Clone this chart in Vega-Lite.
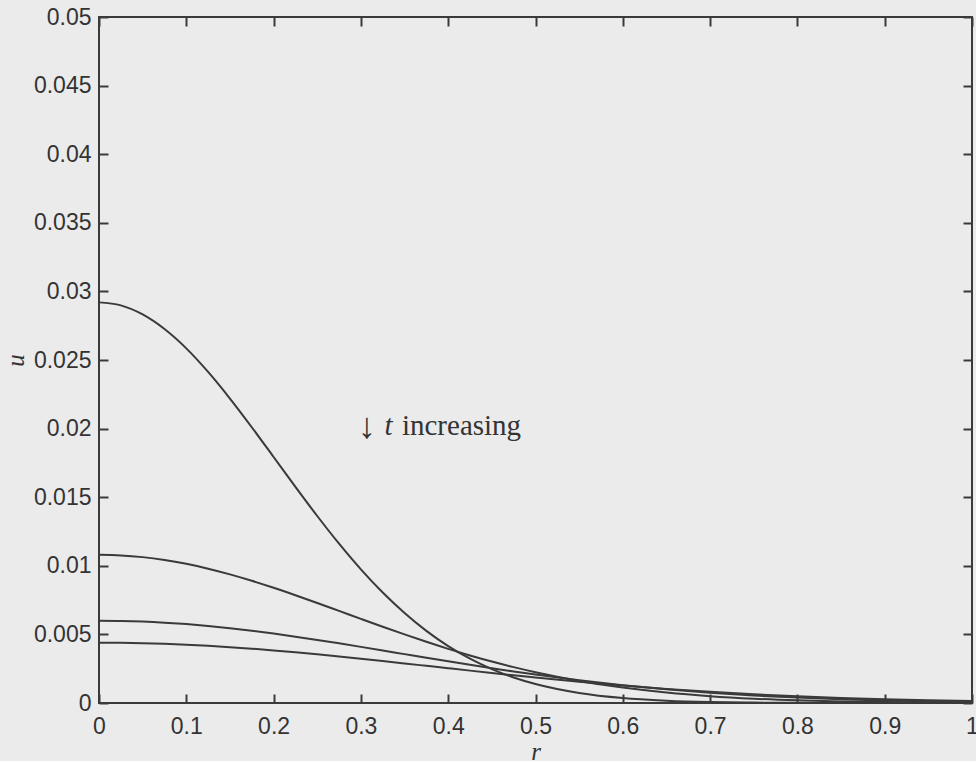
{
  "$schema": "https://vega.github.io/schema/vega-lite/v6.json",
  "width": 873,
  "height": 686,
  "autosize": {"type": "none"},
  "padding": {"left": 99, "top": 17, "right": 4, "bottom": 58},
  "background": "#ebebeb",
  "config": {
    "view": {"stroke": "#3a3a3a", "strokeWidth": 2, "fill": "#ebebeb"},
    "axis": {
      "domain": false, "grid": false,
      "tickColor": "#3a3a3a", "tickWidth": 2, "tickSize": -9,
      "labelFont": "Liberation Sans", "labelFontSize": 23, "labelColor": "#333333",
      "labelFlush": false, "labelOverlap": false,
      "titleFont": "Liberation Serif", "titleFontStyle": "italic", "titleFontWeight": "normal",
      "titleFontSize": 25, "titleColor": "#333333"
    }
  },
  "datasets": {
    "curves": [
      {"r":0,"u":0.0292,"c":"1"},{"r":0.025,"u":0.02898,"c":"1"},{"r":0.05,"u":0.02832,"c":"1"},{"r":0.075,"u":0.02726,"c":"1"},{"r":0.1,"u":0.02585,"c":"1"},{"r":0.125,"u":0.02413,"c":"1"},{"r":0.15,"u":0.02219,"c":"1"},{"r":0.175,"u":0.0201,"c":"1"},{"r":0.2,"u":0.01793,"c":"1"},{"r":0.225,"u":0.01575,"c":"1"},{"r":0.25,"u":0.01363,"c":"1"},{"r":0.275,"u":0.01161,"c":"1"},{"r":0.3,"u":0.00974,"c":"1"},{"r":0.325,"u":0.00805,"c":"1"},{"r":0.35,"u":0.00656,"c":"1"},{"r":0.375,"u":0.00526,"c":"1"},{"r":0.4,"u":0.00415,"c":"1"},{"r":0.425,"u":0.00323,"c":"1"},{"r":0.45,"u":0.00247,"c":"1"},{"r":0.475,"u":0.00186,"c":"1"},{"r":0.5,"u":0.00138,"c":"1"},{"r":0.55,"u":0.00073,"c":"1"},{"r":0.6,"u":0.00036,"c":"1"},{"r":0.65,"u":0.00017,"c":"1"},{"r":0.7,"u":0.00007,"c":"1"},{"r":0.75,"u":0.00003,"c":"1"},{"r":0.8,"u":0.00001,"c":"1"},{"r":0.85,"u":0,"c":"1"},{"r":0.9,"u":0,"c":"1"},{"r":0.95,"u":0,"c":"1"},{"r":1,"u":0,"c":"1"},
      {"r":0,"u":0.0108,"c":"2"},{"r":0.025,"u":0.010758,"c":"2"},{"r":0.05,"u":0.010632,"c":"2"},{"r":0.075,"u":0.010425,"c":"2"},{"r":0.1,"u":0.010142,"c":"2"},{"r":0.125,"u":0.009789,"c":"2"},{"r":0.15,"u":0.009375,"c":"2"},{"r":0.175,"u":0.008908,"c":"2"},{"r":0.2,"u":0.008398,"c":"2"},{"r":0.225,"u":0.007855,"c":"2"},{"r":0.25,"u":0.00729,"c":"2"},{"r":0.275,"u":0.006712,"c":"2"},{"r":0.3,"u":0.006132,"c":"2"},{"r":0.325,"u":0.005558,"c":"2"},{"r":0.35,"u":0.004998,"c":"2"},{"r":0.375,"u":0.00446,"c":"2"},{"r":0.4,"u":0.003948,"c":"2"},{"r":0.425,"u":0.003468,"c":"2"},{"r":0.45,"u":0.003022,"c":"2"},{"r":0.475,"u":0.002613,"c":"2"},{"r":0.5,"u":0.002242,"c":"2"},{"r":0.55,"u":0.001611,"c":"2"},{"r":0.6,"u":0.001122,"c":"2"},{"r":0.65,"u":0.000758,"c":"2"},{"r":0.7,"u":0.000496,"c":"2"},{"r":0.75,"u":0.000314,"c":"2"},{"r":0.8,"u":0.000193,"c":"2"},{"r":0.85,"u":0.000115,"c":"2"},{"r":0.9,"u":0.000066,"c":"2"},{"r":0.95,"u":0.000037,"c":"2"},{"r":1,"u":0.00002,"c":"2"},
      {"r":0,"u":0.006,"c":"3"},{"r":0.025,"u":0.005984,"c":"3"},{"r":0.05,"u":0.005937,"c":"3"},{"r":0.075,"u":0.005858,"c":"3"},{"r":0.1,"u":0.00575,"c":"3"},{"r":0.125,"u":0.005614,"c":"3"},{"r":0.15,"u":0.005452,"c":"3"},{"r":0.175,"u":0.005267,"c":"3"},{"r":0.2,"u":0.005061,"c":"3"},{"r":0.225,"u":0.004837,"c":"3"},{"r":0.25,"u":0.004599,"c":"3"},{"r":0.275,"u":0.004349,"c":"3"},{"r":0.3,"u":0.004091,"c":"3"},{"r":0.325,"u":0.003828,"c":"3"},{"r":0.35,"u":0.003563,"c":"3"},{"r":0.375,"u":0.003298,"c":"3"},{"r":0.4,"u":0.003037,"c":"3"},{"r":0.425,"u":0.002782,"c":"3"},{"r":0.45,"u":0.002535,"c":"3"},{"r":0.475,"u":0.002297,"c":"3"},{"r":0.5,"u":0.002071,"c":"3"},{"r":0.55,"u":0.001656,"c":"3"},{"r":0.6,"u":0.001297,"c":"3"},{"r":0.65,"u":0.000994,"c":"3"},{"r":0.7,"u":0.000746,"c":"3"},{"r":0.75,"u":0.000548,"c":"3"},{"r":0.8,"u":0.000394,"c":"3"},{"r":0.85,"u":0.000277,"c":"3"},{"r":0.9,"u":0.000191,"c":"3"},{"r":0.95,"u":0.000129,"c":"3"},{"r":1,"u":0.000085,"c":"3"},
      {"r":0,"u":0.0044,"c":"4"},{"r":0.025,"u":0.004391,"c":"4"},{"r":0.05,"u":0.004362,"c":"4"},{"r":0.075,"u":0.004315,"c":"4"},{"r":0.1,"u":0.004251,"c":"4"},{"r":0.125,"u":0.004169,"c":"4"},{"r":0.15,"u":0.004072,"c":"4"},{"r":0.175,"u":0.003959,"c":"4"},{"r":0.2,"u":0.003833,"c":"4"},{"r":0.225,"u":0.003695,"c":"4"},{"r":0.25,"u":0.003547,"c":"4"},{"r":0.275,"u":0.00339,"c":"4"},{"r":0.3,"u":0.003226,"c":"4"},{"r":0.325,"u":0.003057,"c":"4"},{"r":0.35,"u":0.002884,"c":"4"},{"r":0.375,"u":0.002709,"c":"4"},{"r":0.4,"u":0.002534,"c":"4"},{"r":0.425,"u":0.00236,"c":"4"},{"r":0.45,"u":0.002189,"c":"4"},{"r":0.475,"u":0.002021,"c":"4"},{"r":0.5,"u":0.001858,"c":"4"},{"r":0.55,"u":0.00155,"c":"4"},{"r":0.6,"u":0.001272,"c":"4"},{"r":0.65,"u":0.001025,"c":"4"},{"r":0.7,"u":0.000812,"c":"4"},{"r":0.75,"u":0.000632,"c":"4"},{"r":0.8,"u":0.000484,"c":"4"},{"r":0.85,"u":0.000364,"c":"4"},{"r":0.9,"u":0.000269,"c":"4"},{"r":0.95,"u":0.000196,"c":"4"},{"r":1,"u":0.00014,"c":"4"}
    ]
  },
  "layer": [
    {
      "data": {"name": "curves"},
      "mark": {"type": "line", "color": "#3a3a3a", "strokeWidth": 2, "interpolate": "monotone"},
      "encoding": {
        "x": {"field": "r", "type": "quantitative", "scale": {"domain": [0, 1], "nice": false},
              "axis": {"orient": "bottom", "values": [0,0.1,0.2,0.3,0.4,0.5,0.6,0.7,0.8,0.9,1], "format": "~g", "labelPadding": 21, "title": "r", "titlePadding": 1}},
        "y": {"field": "u", "type": "quantitative", "scale": {"domain": [0, 0.05], "nice": false},
              "axis": {"orient": "left", "values": [0,0.005,0.01,0.015,0.02,0.025,0.03,0.035,0.04,0.045,0.05], "format": "~g", "labelPadding": 17, "title": "u", "titlePadding": 5}},
        "detail": {"field": "c", "type": "nominal"}
      }
    },
    {
      "data": {"name": "curves"},
      "mark": {"type": "point", "opacity": 0},
      "encoding": {
        "x": {"field": "r", "type": "quantitative", "axis": {"orient": "top", "values": [0,0.1,0.2,0.3,0.4,0.5,0.6,0.7,0.8,0.9,1], "labels": false, "title": null}},
        "y": {"field": "u", "type": "quantitative", "axis": {"orient": "right", "values": [0,0.005,0.01,0.015,0.02,0.025,0.03,0.035,0.04,0.045,0.05], "labels": false, "title": null}}
      }
    },
    {
      "data": {"values": [{"r": 0.307, "u": 0.0195, "label": "↓"}]},
      "mark": {"type": "text", "font": "Liberation Serif", "fontSize": 36, "align": "center", "baseline": "alphabetic", "dy": 3, "color": "#333333"},
      "encoding": {
        "x": {"field": "r", "type": "quantitative", "axis": null},
        "y": {"field": "u", "type": "quantitative", "axis": null},
        "text": {"field": "label"}
      }
    },
    {
      "data": {"values": [{"r": 0.327, "u": 0.0195, "label": "t"}]},
      "mark": {"type": "text", "font": "Liberation Serif", "fontStyle": "italic", "fontSize": 29, "align": "left", "baseline": "alphabetic", "color": "#333333"},
      "encoding": {
        "x": {"field": "r", "type": "quantitative", "axis": null},
        "y": {"field": "u", "type": "quantitative", "axis": null},
        "text": {"field": "label"}
      }
    },
    {
      "data": {"values": [{"r": 0.347, "u": 0.0195, "label": "increasing"}]},
      "mark": {"type": "text", "font": "Liberation Serif", "fontSize": 29, "align": "left", "baseline": "alphabetic", "color": "#333333"},
      "encoding": {
        "x": {"field": "r", "type": "quantitative", "axis": null},
        "y": {"field": "u", "type": "quantitative", "axis": null},
        "text": {"field": "label"}
      }
    }
  ],
  "resolve": {"axis": {"x": "independent", "y": "independent"}}
}
